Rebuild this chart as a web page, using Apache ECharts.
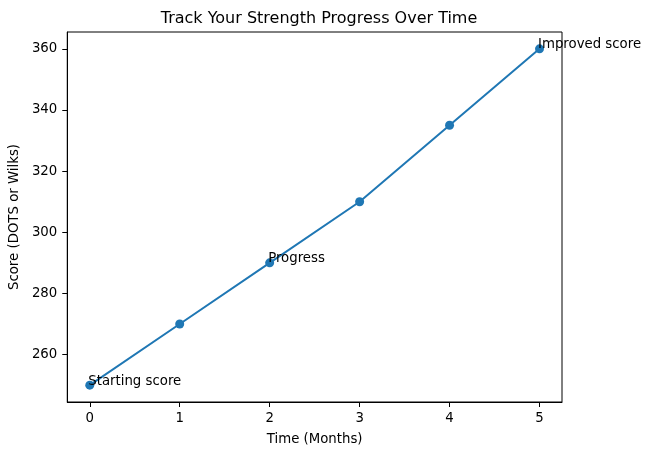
<!DOCTYPE html>
<html>
<head>
<meta charset="utf-8">
<script src="https://cdn.jsdelivr.net/npm/echarts@6/dist/echarts.min.js"></script>
<style>
  html, body { margin: 0; padding: 0; background: #fff; }
  #chart { width: 656px; height: 455px; }
</style>
</head>
<body>
<div id="chart"></div>
<script>
// data
const months = [0, 1, 2, 3, 4, 5];
const scores = [250, 270, 290, 310, 335, 360];
const notes = ["Starting score", "", "Progress", "", "", "Improved score"];
const xTicks = [0, 1, 2, 3, 4, 5];
const yTicks = [260, 280, 300, 320, 340, 360];

const font = "DejaVu Sans";
const chart = echarts.init(document.getElementById("chart"), null, { renderer: "canvas" });

const points = months.map((m, i) => {
  const item = { value: [m, scores[i]] };
  if (notes[i]) {
    item.label = {
      show: true,
      formatter: notes[i],
      position: [4, 4], // symbol box is 8px, so this is the point itself
      offset: [-1, 3], // baseline on the point, like matplotlib annotate
      align: "left",
      verticalAlign: "bottom",
      color: "#000",
      fontFamily: font,
      fontSize: 13.3,
    };
  }
  return item;
});

const option = {
  animation: false,
  title: {
    text: "Track Your Strength Progress Over Time",
    left: 314,
    top: 6,
    textAlign: "center",
    textStyle: { fontFamily: font, fontSize: 16, fontWeight: "normal", color: "#000" },
  },
  grid: {
    left: 66, right: 94, top: 32, bottom: 53,
    show: true, borderColor: "#000", borderWidth: 1,
  },
  xAxis: {
    type: "value",
    min: -0.25,
    max: 5.25,
    name: "Time (Months)",
    nameLocation: "middle",
    nameGap: 31,
    nameTextStyle: { fontFamily: font, fontSize: 13.3, color: "#000" },
    axisLine: { show: true, onZero: false, lineStyle: { color: "#000", width: 1 } },
    axisTick: { show: true, length: 5, customValues: xTicks, lineStyle: { color: "#000" } },
    axisLabel: { customValues: xTicks, margin: 10, fontFamily: font, fontSize: 13.3, color: "#000" },
    splitLine: { show: false },
  },
  yAxis: {
    type: "value",
    min: 244.5,
    max: 365.5,
    name: "Score (DOTS or Wilks)",
    nameLocation: "middle",
    nameGap: 39,
    nameTextStyle: { fontFamily: font, fontSize: 13.3, color: "#000" },
    axisLine: { show: true, onZero: false, lineStyle: { color: "#000", width: 1 } },
    axisTick: { show: true, length: 5, customValues: yTicks, lineStyle: { color: "#000" } },
    axisLabel: { customValues: yTicks, margin: 10, fontFamily: font, fontSize: 13.3, color: "#000" },
    splitLine: { show: false },
  },
  series: [
    {
      type: "line",
      data: points,
      symbol: "circle",
      symbolSize: 9,
      showAllSymbol: true,
      itemStyle: { color: "#1f77b4" },
      lineStyle: { color: "#1f77b4", width: 2 },
      emphasis: { disabled: true },
    },
  ],
};
chart.setOption(option);
</script>
</body>
</html>
